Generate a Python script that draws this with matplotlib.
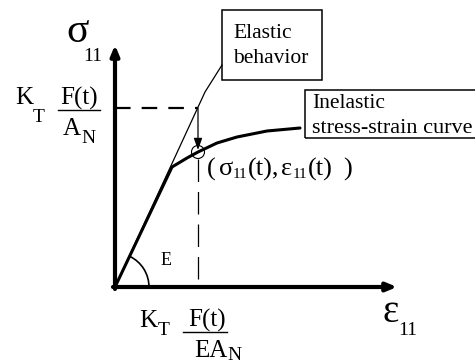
import matplotlib
matplotlib.use("Agg")
import matplotlib.pyplot as plt
from matplotlib.patches import Rectangle, Arc, Circle

# schematic stress-strain data (arbitrary units, origin at the axes corner)
strain = [0, 57, 72, 83, 102, 122, 152, 185]
stress = [0, 120, 129, 135, 144, 150, 156, 159]
elastic_strain = [0, 90, 107]
elastic_stress = [0, 195, 222]
load_strain = 83      # K_T F(t) / (E A_N)
load_stress = 179     # K_T F(t) / A_N
point_strain = 83
point_stress = 135
axis_x_max = 282
axis_y_max = 242

serif = "Liberation Serif"

fig = plt.figure(figsize=(4.75, 3.64), dpi=100)
ax = fig.add_axes([0, 0, 1, 1])
ax.set_xlim(-115, 360)
ax.set_ylim(-77, 287)
ax.axis("off")

# axes with arrows
ax.annotate("", xy=(0, axis_y_max), xytext=(0, -2),
            arrowprops=dict(arrowstyle="-|>,head_length=0.6,head_width=0.25",
                            lw=3, color="black", shrinkA=0, shrinkB=0))
ax.annotate("", xy=(axis_x_max, 0), xytext=(-2, 0),
            arrowprops=dict(arrowstyle="-|>,head_length=0.6,head_width=0.25",
                            lw=3, color="black", shrinkA=0, shrinkB=0))

# elastic line and inelastic curve
ax.plot(elastic_strain, elastic_stress, color="black", lw=0.9)
ax.plot(strain, stress, color="black", lw=2.2, solid_capstyle="round")

# dashed guides
ax.plot([0, load_strain], [load_stress, load_stress], color="black",
        lw=1.6, dashes=(7, 5))
ax.plot([point_strain, point_strain], [point_stress - 7, 0], color="black",
        lw=0.9, dashes=(18, 8))
ax.annotate("", xy=(point_strain, point_stress + 2),
            xytext=(load_strain, load_stress),
            arrowprops=dict(arrowstyle="-|>,head_length=0.7,head_width=0.25",
                            lw=0.9, color="black", shrinkA=0, shrinkB=0))
ax.add_patch(Circle((point_strain, point_stress), 6.5, fill=False,
                    lw=0.8, color="black"))

# angle arc for E
ax.add_patch(Arc((0, 0), 68, 68, theta1=0, theta2=64, lw=1.2, color="black"))
ax.text(51, 22, "E", fontfamily=serif, fontsize=13, ha="center", va="baseline")

# boxes
ax.add_patch(Rectangle((107, 207), 100, 70, fill=False, lw=1.1, color="black"))
ax.text(118, 249, "Elastic", fontfamily=serif, fontsize=15.5, va="baseline")
ax.text(118, 224, "behavior", fontfamily=serif, fontsize=15.5, va="baseline")

ax.add_patch(Rectangle((190, 149), 200, 48, fill=False, lw=1.1, color="black"))
ax.text(197, 179, "Inelastic", fontfamily=serif, fontsize=15.5, va="baseline")
ax.text(197, 154, "stress-strain curve", fontfamily=serif, fontsize=16,
        va="baseline")

# axis labels
ax.text(-37, 245, "σ", fontfamily=serif, fontsize=30, ha="center", va="baseline")
ax.text(-22, 226, "11", fontfamily=serif, fontsize=14, ha="center", va="baseline")
ax.text(276, -35, "ε", fontfamily=serif, fontsize=28, ha="center", va="baseline")
ax.text(293, -48, "11", fontfamily=serif, fontsize=14, ha="center", va="baseline")

# K_T F(t)/A_N on the stress axis
ax.text(-91, 183, "K", fontfamily=serif, fontsize=18, ha="center", va="baseline")
ax.text(-76, 165, "T", fontfamily=serif, fontsize=14, ha="center", va="baseline")
ax.text(-36, 182, "F(t)", fontfamily=serif, fontsize=18, ha="center", va="baseline")
ax.plot([-57, -15], [177, 177], color="black", lw=1.0)
ax.text(-43, 152, "A", fontfamily=serif, fontsize=18, ha="center", va="baseline")
ax.text(-27, 144, "N", fontfamily=serif, fontsize=14, ha="center", va="baseline")

# K_T F(t)/(E A_N) on the strain axis
ax.text(33, -40, "K", fontfamily=serif, fontsize=18, ha="center", va="baseline")
ax.text(49, -48, "T", fontfamily=serif, fontsize=14, ha="center", va="baseline")
ax.text(92, -40, "F(t)", fontfamily=serif, fontsize=18, ha="center", va="baseline")
ax.plot([68, 112], [-45, -45], color="black", lw=1.0)
ax.text(96, -70, "EA", fontfamily=serif, fontsize=18, ha="center", va="baseline")
ax.text(119, -73, "N", fontfamily=serif, fontsize=14, ha="center", va="baseline")

# current state label
ax.text(92, 111, "(", fontfamily=serif, fontsize=19, va="baseline")
ax.text(104, 112, "σ", fontfamily=serif, fontsize=19, va="baseline")
ax.text(117.5, 109, "11", fontfamily=serif, fontsize=11, va="baseline")
ax.text(133, 111, "(t),", fontfamily=serif, fontsize=19, va="baseline")
ax.text(166, 112, "ε", fontfamily=serif, fontsize=19, va="baseline")
ax.text(178, 109, "11", fontfamily=serif, fontsize=11, va="baseline")
ax.text(193, 111, "(t)", fontfamily=serif, fontsize=19, va="baseline")
ax.text(228, 111, ")", fontfamily=serif, fontsize=19, va="baseline")

fig.savefig("out.png", dpi=100, facecolor="white")
